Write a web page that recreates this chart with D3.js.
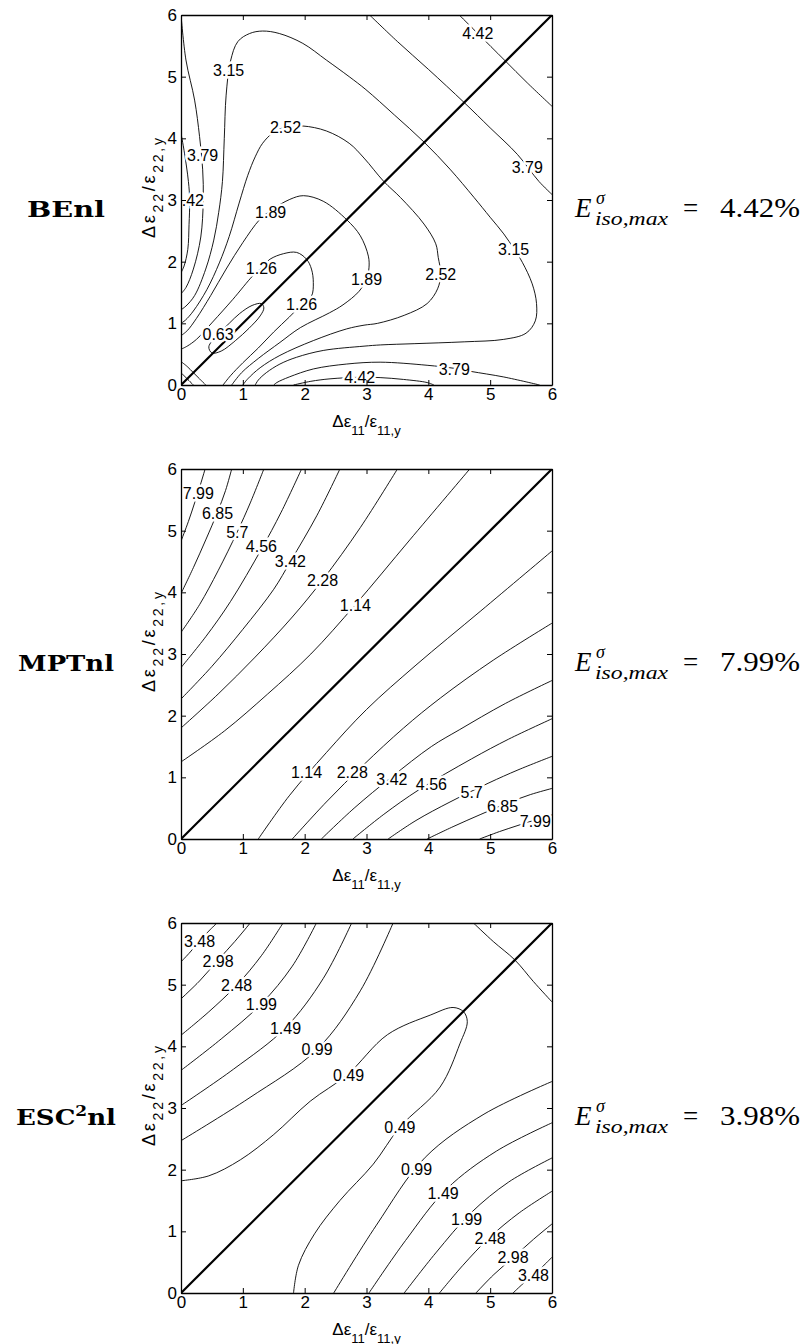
<!DOCTYPE html>
<html>
<head>
<meta charset="utf-8">
<script src="https://cdn.jsdelivr.net/npm/d3@7"></script>
<style>
  body { margin: 0; background: #fff; }
  text { font-family: "Liberation Sans", Arial, sans-serif; }
</style>
</head>
<body>
<div id="chart"></div>
<script>
// tick values shared by all three panels
var ticks = [0, 1, 2, 3, 4, 5, 6];
var diagonal = [[0, 0], [6, 6]];

// ---------- BEnl contours ----------
var beLines = [
  [[4.5, 6], [4.8, 5.7], [5.23, 5.27], [5.6, 4.9], [6, 4.52]],
  [[3.05, 6], [3.5, 5.57], [4.0, 5.12], [4.58, 4.58], [5.0, 4.17], [5.44, 3.74], [5.79, 3.3], [6, 3.09]],
  [[0, 1.22], [0.08, 1.28], [0.22, 1.45], [0.4, 1.88], [0.53, 2.35], [0.61, 2.8], [0.67, 3.3], [0.7, 4.0],
   [0.73, 4.7], [0.8, 5.25], [0.92, 5.57], [1.11, 5.7], [1.32, 5.74], [1.59, 5.7], [1.97, 5.54], [2.35, 5.27],
   [2.72, 5.0], [2.99, 4.79], [3.45, 4.38], [3.93, 3.94], [4.35, 3.5], [4.74, 3.04], [5.0, 2.72], [5.22, 2.45],
   [5.39, 2.2], [5.52, 1.99], [5.68, 1.64], [5.75, 1.32], [5.73, 1.04], [5.58, 0.84], [5.22, 0.74], [4.58, 0.7],
   [3.77, 0.67], [3.23, 0.65], [2.96, 0.63], [2.3, 0.56], [1.87, 0.45], [1.6, 0.34], [1.38, 0.2], [1.25, 0.08], [1.2, 0]],
  [[0, 1.0], [0.07, 1.05], [0.2, 1.2], [0.42, 1.55], [0.62, 1.98], [0.78, 2.41], [0.94, 2.95], [1.08, 3.4],
   [1.2, 3.7], [1.32, 3.92], [1.5, 4.1], [1.69, 4.18], [1.97, 4.2], [2.35, 4.12], [2.72, 3.92], [2.96, 3.68],
   [3.28, 3.3], [3.55, 3.04], [3.93, 2.61], [4.12, 2.29], [4.16, 2.07], [4.2, 1.8], [4.15, 1.56], [3.98, 1.32],
   [3.61, 1.13], [3.18, 1.0], [2.96, 0.97], [2.68, 0.91], [2.14, 0.72], [1.6, 0.48], [1.28, 0.28], [1.08, 0.1], [1.0, 0]],
  [[0, 0.8], [0.1, 0.88], [0.25, 1.08], [0.48, 1.45], [0.73, 1.88], [1.0, 2.31], [1.27, 2.68], [1.45, 2.83],
   [1.76, 3.01], [1.98, 3.07], [2.3, 2.98], [2.68, 2.68], [2.9, 2.42], [3.03, 2.09], [3.04, 1.9], [3.0, 1.72],
   [2.88, 1.52], [2.62, 1.3], [2.4, 1.17], [1.93, 0.93], [1.6, 0.69], [1.25, 0.43], [0.98, 0.2], [0.82, 0]],
  [[0, 0.58], [0.1, 0.63], [0.25, 0.74], [0.51, 1.02], [0.84, 1.39], [1.16, 1.77], [1.3, 1.9], [1.44, 2.04],
   [1.66, 2.13], [1.87, 2.15], [2.03, 2.04], [2.11, 1.88], [2.14, 1.66], [2.11, 1.44], [1.95, 1.3], [1.75, 1.1],
   [1.5, 0.86], [1.25, 0.6], [1.0, 0.36], [0.8, 0.15], [0.68, 0]],
  [[0, 6], [0.08, 5.27], [0.22, 4.62], [0.3, 4.03], [0.35, 3.5], [0.36, 3.0], [0.32, 2.4], [0.2, 1.88], [0.08, 1.58], [0, 1.48]],
  [[0, 4.08], [0.05, 3.8], [0.12, 3.3], [0.14, 3.0], [0.13, 2.6], [0.11, 2.2], [0.05, 1.93], [0, 1.82]],
  [[1.5, 0], [1.55, 0.04], [1.75, 0.13], [2.14, 0.26], [2.68, 0.34], [3.22, 0.37], [3.98, 0.32], [4.42, 0.27],
   [4.69, 0.22], [5.22, 0.13], [5.8, 0]],
  [[1.82, 0], [2.1, 0.06], [2.41, 0.1], [2.89, 0.125], [3.22, 0.12], [3.6, 0.09], [3.98, 0.04], [4.09, 0]],
  [[0, 0.38], [0.1, 0.3], [0.2, 0.2], [0.3, 0.1], [0.4, 0]],
  [[0, 0.2], [0.1, 0.1], [0.2, 0]]
];
var beLoops = [
  [[0.45, 0.62], [0.6, 0.82], [0.78, 1.0], [0.95, 1.16], [1.15, 1.29], [1.3, 1.32], [1.34, 1.25], [1.28, 1.12],
   [1.1, 0.92], [0.88, 0.72], [0.65, 0.55], [0.5, 0.52]]
];
var beLabels = [
  ["4.42", 4.80, 5.70], ["3.15", 0.77, 5.10], ["2.52", 1.69, 4.18], ["3.79", 0.35, 3.72],
  ["4.42", 0.12, 3.0], ["3.79", 5.6, 3.53], ["1.89", 1.45, 2.80], ["3.15", 5.38, 2.20],
  ["1.26", 1.30, 1.90], ["1.89", 3.0, 1.72], ["2.52", 4.20, 1.80], ["1.26", 1.95, 1.31],
  ["0.63", 0.6, 0.82], ["3.79", 4.42, 0.26], ["4.42", 2.89, 0.12]
];

// ---------- MPTnl contours ----------
var mptLines = [
  [[0, 4.83], [0.12, 5.15], [0.22, 5.45], [0.3, 5.7], [0.39, 6]],
  [[0, 3.98], [0.2, 4.4], [0.4, 4.85], [0.59, 5.3], [0.72, 5.65], [0.82, 6]],
  [[0, 3.35], [0.3, 3.8], [0.6, 4.35], [0.91, 4.98], [1.12, 5.45], [1.34, 6]],
  [[0, 2.78], [0.4, 3.28], [0.8, 3.85], [1.3, 4.7], [1.62, 5.3], [1.95, 6]],
  [[0, 2.27], [0.5, 2.8], [1.0, 3.4], [1.5, 4.05], [1.77, 4.5], [2.2, 5.25], [2.57, 6]],
  [[0, 1.8], [0.6, 2.35], [1.2, 2.95], [1.8, 3.6], [2.29, 4.2], [2.9, 5.05], [3.5, 6]],
  [[0, 1.25], [0.7, 1.75], [1.4, 2.35], [2.1, 3.0], [2.82, 3.8], [3.7, 4.85], [4.67, 6]],
  [[4.83, 0], [5.15, 0.12], [5.45, 0.22], [5.7, 0.3], [6, 0.39]],
  [[3.98, 0], [4.4, 0.2], [4.85, 0.4], [5.3, 0.59], [5.65, 0.72], [6, 0.82]],
  [[3.35, 0], [3.8, 0.3], [4.35, 0.6], [4.98, 0.91], [5.45, 1.12], [6, 1.34]],
  [[2.78, 0], [3.28, 0.4], [3.85, 0.8], [4.7, 1.3], [5.3, 1.62], [6, 1.95]],
  [[2.27, 0], [2.8, 0.5], [3.4, 1.0], [4.05, 1.5], [4.5, 1.77], [5.25, 2.2], [6, 2.57]],
  [[1.8, 0], [2.35, 0.6], [2.95, 1.2], [3.6, 1.8], [4.2, 2.29], [5.05, 2.9], [6, 3.5]],
  [[1.25, 0], [1.75, 0.7], [2.35, 1.4], [3.0, 2.1], [3.8, 2.82], [4.85, 3.7], [6, 4.67]]
];
var mptLoops = [];
var mptLabels = [
  ["7.99", 0.28, 5.6], ["6.85", 0.59, 5.29], ["5.7", 0.91, 4.98], ["4.56", 1.30, 4.74],
  ["3.42", 1.77, 4.5], ["2.28", 2.29, 4.2], ["1.14", 2.82, 3.79],
  ["1.14", 2.03, 1.08], ["2.28", 2.77, 1.08], ["3.42", 3.41, 0.97], ["4.56", 4.05, 0.89],
  ["5.7", 4.70, 0.76], ["6.85", 5.2, 0.53], ["7.99", 5.73, 0.28]
];

// ---------- ESC2nl contours ----------
var escLines = [
  [[0, 5.37], [0.15, 5.53], [0.31, 5.72], [0.45, 5.87], [0.58, 6]],
  [[0, 4.77], [0.3, 5.06], [0.6, 5.4], [0.87, 5.7], [1.12, 6]],
  [[0, 4.18], [0.45, 4.56], [0.9, 4.99], [1.3, 5.47], [1.65, 6]],
  [[0, 3.61], [0.65, 4.12], [1.3, 4.69], [1.8, 5.3], [2.19, 6]],
  [[0, 3.04], [0.85, 3.63], [1.69, 4.30], [2.3, 5.1], [2.76, 6]],
  [[0, 2.47], [1.1, 3.16], [2.2, 3.95], [2.9, 4.9], [3.43, 6]],
  [[5.37, 0], [5.53, 0.15], [5.72, 0.31], [5.87, 0.45], [6, 0.58]],
  [[4.77, 0], [5.06, 0.3], [5.4, 0.6], [5.7, 0.87], [6, 1.12]],
  [[4.18, 0], [4.56, 0.45], [4.99, 0.9], [5.47, 1.3], [6, 1.65]],
  [[3.61, 0], [4.12, 0.65], [4.69, 1.3], [5.3, 1.8], [6, 2.19]],
  [[3.04, 0], [3.63, 0.85], [4.30, 1.69], [5.1, 2.3], [6, 2.76]],
  [[2.47, 0], [3.16, 1.1], [3.95, 2.2], [4.9, 2.9], [6, 3.43]],
  [[4.73, 6], [5.05, 5.7], [5.4, 5.4], [5.7, 5.05], [6, 4.72]],
  [[0, 1.82], [0.45, 1.9], [0.96, 2.16], [1.5, 2.57], [2.09, 3.11], [2.69, 3.54], [3.34, 4.19], [4.04, 4.51],
   [4.40, 4.63], [4.57, 4.56], [4.63, 4.40], [4.51, 4.04], [4.19, 3.34], [3.54, 2.69], [3.11, 2.09], [2.57, 1.5],
   [2.16, 0.96], [1.9, 0.45], [1.82, 0]]
];
var escLoops = [];
var escLabels = [
  ["3.48", 0.30, 5.70], ["2.98", 0.60, 5.38], ["2.48", 0.90, 4.99], ["1.99", 1.30, 4.69],
  ["1.49", 1.69, 4.30], ["0.99", 2.20, 3.95], ["0.49", 2.71, 3.53],
  ["0.49", 3.54, 2.69], ["0.99", 3.81, 2.01], ["1.49", 4.24, 1.61], ["1.99", 4.62, 1.19],
  ["2.48", 5.0, 0.88], ["2.98", 5.37, 0.58], ["3.48", 5.70, 0.28]
];

var names = ["BEnl", "MPTnl", "ESC"];
var nameWidths = [78, 96, 100];
var emax = ["4.42%", "7.99%", "3.98%"];

// ---------- layout ----------
var svgWidth = 805;
var svgHeight = 1344;
var plotLeft = 181;
var plotW = 371;
var plotH = 370;
var panelTops = [15, 469, 923];

var svg = d3.select("#chart")
  .append("svg")
  .attr("width", svgWidth)
  .attr("height", svgHeight);

var panels = [
  {lines: beLines, loops: beLoops, labels: beLabels},
  {lines: mptLines, loops: mptLoops, labels: mptLabels},
  {lines: escLines, loops: escLoops, labels: escLabels}
];

var x = d3.scaleLinear().domain([0, 6]).range([0, plotW]);
var y = d3.scaleLinear().domain([0, 6]).range([plotH, 0]);

var line = d3.line()
  .x(d => x(d[0]))
  .y(d => y(d[1]))
  .curve(d3.curveCatmullRom.alpha(0.5));

var loopLine = d3.line()
  .x(d => x(d[0]))
  .y(d => y(d[1]))
  .curve(d3.curveCatmullRomClosed.alpha(0.5));

var serif = "'Liberation Serif', 'DejaVu Serif', serif";

panels.forEach(function(p, i) {
  var top = panelTops[i];
  var g = svg.append("g").attr("transform", `translate(${plotLeft}, ${top})`);

  g.append("clipPath").attr("id", "clip" + i)
    .append("rect").attr("width", plotW).attr("height", plotH);

  var inner = g.append("g").attr("clip-path", `url(#clip${i})`);

  inner.selectAll("path.contour")
    .data(p.lines)
    .enter()
    .append("path")
    .attr("class", "contour")
    .attr("d", line)
    .attr("fill", "none")
    .attr("stroke", "#000")
    .attr("stroke-width", 0.9);

  inner.selectAll("path.loop")
    .data(p.loops)
    .enter()
    .append("path")
    .attr("class", "loop")
    .attr("d", loopLine)
    .attr("fill", "none")
    .attr("stroke", "#000")
    .attr("stroke-width", 0.9);

  // thick diagonal
  inner.append("path")
    .datum(diagonal)
    .attr("d", d3.line().x(d => x(d[0])).y(d => y(d[1])))
    .attr("stroke", "#000")
    .attr("stroke-width", 2.2);

  // contour labels, white halo breaks the line like clabel does
  inner.selectAll("text.clabel")
    .data(p.labels)
    .enter()
    .append("text")
    .attr("class", "clabel")
    .attr("x", d => x(d[1]))
    .attr("y", d => y(d[2]))
    .attr("dy", "0.36em")
    .attr("text-anchor", "middle")
    .style("font-size", "16px")
    .attr("stroke", "#fff")
    .attr("stroke-width", 5)
    .attr("paint-order", "stroke")
    .attr("fill", "#000")
    .text(d => d[0]);

  // axes with inward ticks on all four sides
  var fmt = d3.format("d");
  var bottomAxis = d3.axisBottom(x).tickValues(ticks).tickFormat(fmt).tickSizeInner(-5).tickSizeOuter(0).tickPadding(3);
  var leftAxis = d3.axisLeft(y).tickValues(ticks).tickFormat(fmt).tickSizeInner(-5).tickSizeOuter(0).tickPadding(4);
  var topAxis = d3.axisTop(x).tickValues(ticks).tickSizeInner(-5).tickSizeOuter(0).tickFormat("");
  var rightAxis = d3.axisRight(y).tickValues(ticks).tickSizeInner(-5).tickSizeOuter(0).tickFormat("");

  g.append("g").attr("transform", `translate(0, ${plotH})`).call(bottomAxis);
  g.append("g").call(leftAxis);
  g.append("g").call(topAxis);
  g.append("g").attr("transform", `translate(${plotW}, 0)`).call(rightAxis);

  g.selectAll(".domain").attr("stroke", "#000").attr("stroke-width", 1.3);
  g.selectAll(".tick line").attr("stroke", "#000").attr("stroke-width", 1);
  g.selectAll(".tick text")
    .style("font-family", "'Liberation Sans', Arial, sans-serif")
    .style("font-size", "17px")
    .attr("fill", "#000");

  // x axis title
  var xt = g.append("text")
    .attr("x", plotW / 2)
    .attr("y", plotH + 42)
    .attr("text-anchor", "middle")
    .style("font-size", "17px");
  xt.append("tspan").text("Δε");
  xt.append("tspan").attr("baseline-shift", "sub").style("font-size", "13px").text("11");
  xt.append("tspan").text("/ε");
  xt.append("tspan").attr("baseline-shift", "sub").style("font-size", "13px").text("11,y");

  // y axis title
  var yt = g.append("text")
    .attr("transform", `translate(-26, ${plotH / 2 - 12}) rotate(-90)`)
    .attr("text-anchor", "middle")
    .attr("textLength", 100)
    .attr("lengthAdjust", "spacing")
    .style("font-size", "18px");
  yt.append("tspan").text("Δε");
  yt.append("tspan").attr("baseline-shift", "sub").style("font-size", "14px").text("22");
  yt.append("tspan").text("/ε");
  yt.append("tspan").attr("baseline-shift", "sub").style("font-size", "14px").text("22,y");

  // row name on the left
  var base = top + plotH / 2 + 17;
  var nm = svg.append("text")
    .attr("x", 66 - nameWidths[i] / 2)
    .attr("y", base)
    .attr("textLength", nameWidths[i])
    .attr("lengthAdjust", "spacingAndGlyphs")
    .style("font-family", "'DejaVu Serif', serif")
    .style("font-weight", "bold")
    .style("font-size", "23px");
  nm.append("tspan").text(names[i]);
  if (i === 2) {
    nm.append("tspan").attr("baseline-shift", "super").style("font-size", "15px").text("2");
    nm.append("tspan").text("nl");
  }

  // E^sigma_iso,max = value
  svg.append("text")
    .attr("x", 575).attr("y", base)
    .style("font-family", serif).style("font-style", "italic").style("font-size", "27px")
    .text("E");
  svg.append("text")
    .attr("x", 596).attr("y", base - 13)
    .style("font-family", serif).style("font-style", "italic").style("font-size", "18px")
    .text("σ");
  svg.append("text")
    .attr("x", 595).attr("y", base + 8)
    .attr("textLength", 73)
    .attr("lengthAdjust", "spacingAndGlyphs")
    .style("font-family", serif).style("font-style", "italic").style("font-size", "18px")
    .text("iso,max");
  svg.append("text")
    .attr("x", 683).attr("y", base)
    .style("font-family", serif).style("font-size", "27px")
    .text("=");
  svg.append("text")
    .attr("x", 720).attr("y", base)
    .attr("textLength", 80)
    .attr("lengthAdjust", "spacingAndGlyphs")
    .style("font-family", serif).style("font-size", "27px")
    .text(emax[i]);
});
</script>
</body>
</html>
